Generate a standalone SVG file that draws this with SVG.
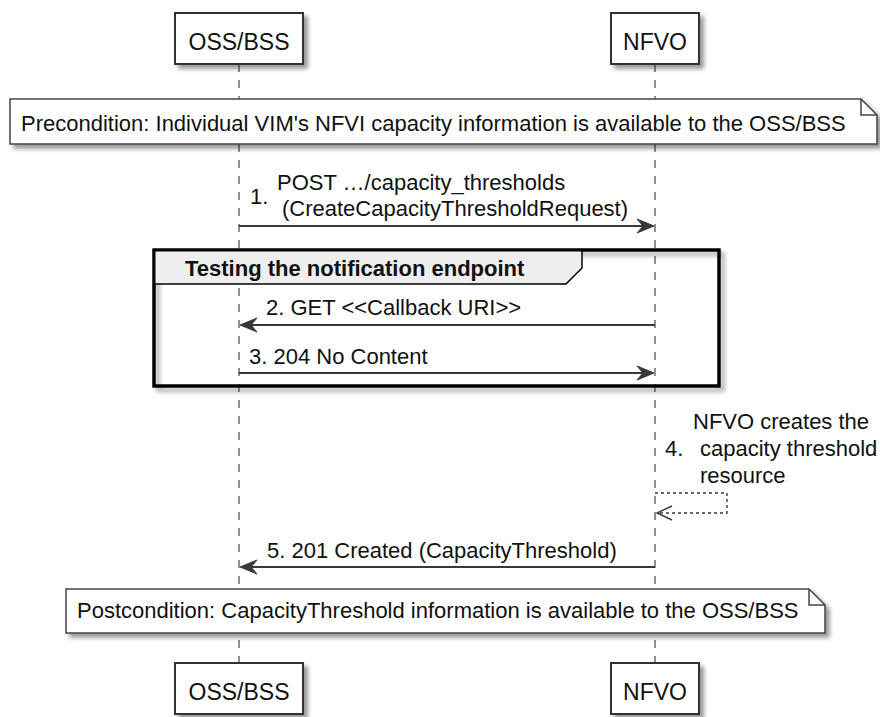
<svg xmlns="http://www.w3.org/2000/svg" width="880" height="717" viewBox="0 0 880 717">
<style>
  text { font-family: "Liberation Sans", Arial, sans-serif; font-size: 22px; fill: #111; }
  .pname { font-size: 23px; text-anchor: middle; }
  .bold { font-weight: bold; }
  .lifeline { stroke: #555; stroke-width: 1.3; stroke-dasharray: 8,8; fill: none; }
  .box { fill: #fff; stroke: #333; stroke-width: 2; }
  .note { fill: #fff; stroke: #444; stroke-width: 1.5; }
  .fold { fill: none; stroke: #444; stroke-width: 1.5; }
  .frame { fill: none; stroke: #000; stroke-width: 3; }
  .tab { fill: #eee; stroke: #000; stroke-width: 1.5; }
  .msg { stroke: #383838; stroke-width: 1.8; fill: none; }
  .head { fill: #383838; stroke: #383838; stroke-width: 1; }
  .self { stroke: #383838; stroke-width: 1.4; fill: none; stroke-dasharray: 3,3; }
  .open { stroke: #383838; stroke-width: 1.4; fill: none; }
</style>
<defs>
  <filter id="sh" x="-10%" y="-10%" width="130%" height="160%">
    <feDropShadow dx="4" dy="4" stdDeviation="2.2" flood-color="#000" flood-opacity="0.4"/>
  </filter>
</defs>
<rect width="880" height="717" fill="#fff"/>

<g id="lifelines">
  <line class="lifeline" x1="239" y1="64" x2="239" y2="663"/>
  <line class="lifeline" x1="655" y1="64" x2="655" y2="663"/>
</g>

<g id="group-testing">
  <rect class="frame" x="154" y="250" width="565" height="136" filter="url(#sh)"/>
  <path class="tab" d="M154,250 H582 V268 L566,284 H154 Z"/>
  <rect class="frame" x="154" y="250" width="565" height="136"/>
  <text class="bold" x="185" y="276">Testing the notification endpoint</text>
</g>

<g id="oss-top">
  <rect class="box" x="175" y="13" width="128" height="51" filter="url(#sh)"/>
  <text class="pname" x="239" y="50">OSS/BSS</text>
</g>
<g id="nfvo-top">
  <rect class="box" x="611" y="13" width="88" height="51" filter="url(#sh)"/>
  <text class="pname" x="655" y="50">NFVO</text>
</g>

<g id="precondition">
  <path class="note" d="M10,99 H861 L877,115 V144 H10 Z" filter="url(#sh)"/>
  <path class="fold" d="M861,99 V115 H877"/>
  <text x="21" y="131">Precondition: Individual VIM's NFVI capacity information is available to the OSS/BSS</text>
</g>

<g id="postcondition">
  <path class="note" d="M66,589 H809 L825,605 V633 H66 Z" filter="url(#sh)"/>
  <path class="fold" d="M809,589 V605 H825"/>
  <text x="77" y="618">Postcondition: CapacityThreshold information is available to the OSS/BSS</text>
</g>

<g id="oss-bottom">
  <rect class="box" x="175" y="663" width="128" height="51" filter="url(#sh)"/>
  <text class="pname" x="239" y="700">OSS/BSS</text>
</g>
<g id="nfvo-bottom">
  <rect class="box" x="611" y="663" width="88" height="51" filter="url(#sh)"/>
  <text class="pname" x="655" y="700">NFVO</text>
</g>

<g id="connectors">
  <g id="msg1">
    <line class="msg" x1="239" y1="226" x2="648" y2="226"/>
    <polygon class="head" points="654,226 637,219 643,226 637,233"/>
    <text x="250" y="204">1.</text>
    <text x="277" y="190">POST …/capacity_thresholds</text>
    <text x="282" y="216">(CreateCapacityThresholdRequest)</text>
  </g>
  <g id="msg2">
    <line class="msg" x1="655" y1="325" x2="246" y2="325"/>
    <polygon class="head" points="240,325 257,318 251,325 257,332"/>
    <text x="266" y="315">2. GET &lt;&lt;Callback URI&gt;&gt;</text>
  </g>
  <g id="msg3">
    <line class="msg" x1="239" y1="373" x2="648" y2="373"/>
    <polygon class="head" points="654,373 637,366 643,373 637,380"/>
    <text x="249" y="364">3. 204 No Content</text>
  </g>
  <g id="msg4">
    <path class="self" d="M655,493 H727 V513 H657"/>
    <polyline class="open" points="672,506 657,513 672,520"/>
    <text x="665" y="456">4.</text>
    <text x="693" y="429">NFVO creates the</text>
    <text x="700" y="456">capacity threshold</text>
    <text x="700" y="483">resource</text>
  </g>
  <g id="msg5">
    <line class="msg" x1="655" y1="567" x2="246" y2="567"/>
    <polygon class="head" points="240,567 257,560 251,567 257,574"/>
    <text x="267" y="558">5. 201 Created (CapacityThreshold)</text>
  </g>
</g>
</svg>
